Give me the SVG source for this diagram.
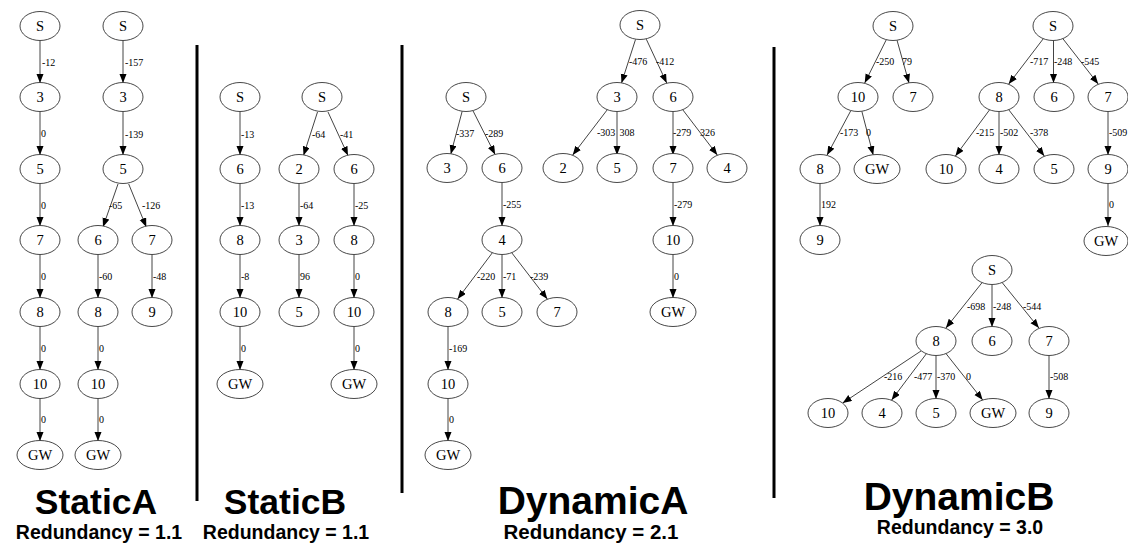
<svg xmlns="http://www.w3.org/2000/svg" width="1128" height="546" viewBox="0 0 1128 546">
<style>
.n ellipse{fill:#fff;stroke:#333;stroke-width:0.9}
.n text{font-family:"Liberation Serif",serif;font-size:14.5px;text-anchor:middle;fill:#000}
.e line{stroke:#444;stroke-width:1;marker-end:url(#ah)}
.el{font-family:"Liberation Serif",serif;font-size:10px;fill:#000}
.sep{stroke:#000;stroke-width:3}
.title{font-family:"Liberation Sans",Arial,sans-serif;font-weight:bold;font-size:35.5px;text-anchor:middle;fill:#000}
.sub{font-family:"Liberation Sans",Arial,sans-serif;font-weight:bold;font-size:19.5px;text-anchor:middle;fill:#000}
</style>
<defs>
<marker id="ah" markerUnits="userSpaceOnUse" markerWidth="10" markerHeight="8" refX="9" refY="3.5" orient="auto"><path d="M0,0 L9,3.5 L0,7 z" fill="#000"/></marker>
<ellipse id="ov" rx="20" ry="14.5" fill="#fff" stroke="#333" stroke-width="0.9"/>
</defs>
<rect width="1128" height="546" fill="#fff"/>

<g id="separators">
<line class="sep" x1="197" y1="45" x2="197" y2="501"/>
<line class="sep" x1="402" y1="45" x2="402" y2="493"/>
<line class="sep" x1="774" y1="47" x2="774" y2="498"/>
</g>

<g id="connectors" class="e">
<line x1="40" y1="40.5" x2="40" y2="83"/>
<line x1="40" y1="111.5" x2="40" y2="155"/>
<line x1="40" y1="183.5" x2="40" y2="226"/>
<line x1="40" y1="254.5" x2="40" y2="298"/>
<line x1="40" y1="326.5" x2="40" y2="370"/>
<line x1="40" y1="398.5" x2="40" y2="441"/>
<line x1="123" y1="40.5" x2="123" y2="83"/>
<line x1="123" y1="111.5" x2="123" y2="155"/>
<line x1="118" y1="184" x2="103" y2="227"/>
<line x1="128.7" y1="184" x2="146.3" y2="227"/>
<line x1="98" y1="254.5" x2="98" y2="298"/>
<line x1="152" y1="254.5" x2="152" y2="298"/>
<line x1="98" y1="326.5" x2="98" y2="370"/>
<line x1="98" y1="398.5" x2="98" y2="441"/>
<line x1="240" y1="111.5" x2="240" y2="155"/>
<line x1="240" y1="183.5" x2="240" y2="226"/>
<line x1="240" y1="254.5" x2="240" y2="298"/>
<line x1="240" y1="326.5" x2="240" y2="370"/>
<line x1="317.5" y1="112" x2="303.5" y2="155.5"/>
<line x1="328" y1="112" x2="348" y2="155.5"/>
<line x1="299" y1="183.5" x2="299" y2="226"/>
<line x1="354" y1="183.5" x2="354" y2="226"/>
<line x1="299" y1="254.5" x2="299" y2="298"/>
<line x1="354" y1="254.5" x2="354" y2="298"/>
<line x1="354" y1="326.5" x2="354" y2="370"/>
<line x1="462.2" y1="111.2" x2="450.8" y2="154"/>
<line x1="472.9" y1="110.6" x2="495.1" y2="154.5"/>
<line x1="502" y1="182.5" x2="502" y2="226"/>
<line x1="492.4" y1="252.7" x2="457.6" y2="299"/>
<line x1="502" y1="254.5" x2="502" y2="298"/>
<line x1="511.7" y1="252.7" x2="547.3" y2="299"/>
<line x1="448" y1="326.5" x2="448" y2="370"/>
<line x1="448" y1="398.5" x2="448" y2="441"/>
<line x1="635.5" y1="39.5" x2="621.5" y2="83"/>
<line x1="646.3" y1="39.2" x2="666.7" y2="83"/>
<line x1="607.3" y1="109.7" x2="572.7" y2="155"/>
<line x1="617" y1="111.5" x2="617" y2="155"/>
<line x1="673" y1="111.5" x2="673" y2="155"/>
<line x1="682.7" y1="109.7" x2="717.3" y2="155"/>
<line x1="673" y1="182.5" x2="673" y2="226"/>
<line x1="673" y1="254.5" x2="673" y2="298"/>
<line x1="886.3" y1="39.7" x2="864.7" y2="83"/>
<line x1="897" y1="40.2" x2="909" y2="83"/>
<line x1="850.9" y1="110.5" x2="827.1" y2="155"/>
<line x1="861.8" y1="111.2" x2="873.2" y2="155"/>
<line x1="820" y1="183.5" x2="820" y2="226"/>
<line x1="1043.3" y1="38.7" x2="1008.7" y2="84"/>
<line x1="1053.5" y1="40.5" x2="1053.5" y2="83"/>
<line x1="1062.8" y1="38.6" x2="1098.2" y2="84"/>
<line x1="989.6" y1="109.8" x2="955.4" y2="156"/>
<line x1="999" y1="111.5" x2="999" y2="155"/>
<line x1="1008.7" y1="109.7" x2="1044.3" y2="156"/>
<line x1="1108" y1="111.5" x2="1108" y2="155"/>
<line x1="1108" y1="183.5" x2="1108" y2="226"/>
<line x1="982.1" y1="282.6" x2="945.9" y2="328"/>
<line x1="992" y1="284.5" x2="992" y2="327"/>
<line x1="1002.1" y1="282.5" x2="1038.9" y2="328"/>
<line x1="921.3" y1="350.8" x2="842.7" y2="403"/>
<line x1="926.4" y1="353.7" x2="891.6" y2="400"/>
<line x1="936" y1="355.5" x2="936" y2="399"/>
<line x1="946" y1="353.6" x2="982.7" y2="400"/>
<line x1="1049" y1="355.5" x2="1049" y2="399"/>
</g>

<g id="edge-labels" class="el">
<text x="42" y="66">-12</text>
<text x="41" y="137">0</text>
<text x="41" y="209">0</text>
<text x="41" y="280">0</text>
<text x="41" y="352">0</text>
<text x="41" y="423">0</text>
<text x="125" y="66">-157</text>
<text x="125" y="138">-139</text>
<text x="109" y="209">-65</text>
<text x="142" y="209">-126</text>
<text x="99" y="280">-60</text>
<text x="153" y="280">-48</text>
<text x="99" y="352">0</text>
<text x="99" y="423">0</text>
<text x="241" y="138">-13</text>
<text x="241" y="209">-13</text>
<text x="241" y="280">-8</text>
<text x="241" y="352">0</text>
<text x="312" y="138">-64</text>
<text x="340" y="138">-41</text>
<text x="300" y="209">-64</text>
<text x="355" y="209">-25</text>
<text x="300" y="280">96</text>
<text x="355" y="280">0</text>
<text x="355" y="352">0</text>
<text x="456" y="137">-337</text>
<text x="485" y="137">-289</text>
<text x="503" y="208">-255</text>
<text x="477" y="280">-220</text>
<text x="503" y="280">-71</text>
<text x="530" y="280">-239</text>
<text x="449" y="352">-169</text>
<text x="449" y="423">0</text>
<text x="629" y="65">-476</text>
<text x="656" y="65">-412</text>
<text x="597" y="136">-303</text>
<text x="619.5" y="136">308</text>
<text x="673" y="136">-279</text>
<text x="700" y="136">326</text>
<text x="674" y="208">-279</text>
<text x="674" y="280">0</text>
<text x="876" y="65">-250</text>
<text x="902" y="65">79</text>
<text x="840" y="136">-173</text>
<text x="866" y="136">0</text>
<text x="821" y="208">192</text>
<text x="1030" y="65">-717</text>
<text x="1054" y="65">-248</text>
<text x="1081" y="65">-545</text>
<text x="976" y="136">-215</text>
<text x="1000" y="136">-502</text>
<text x="1030" y="136">-378</text>
<text x="1109" y="136">-509</text>
<text x="1109" y="208">0</text>
<text x="967" y="310">-698</text>
<text x="993" y="310">-248</text>
<text x="1023" y="310">-544</text>
<text x="884" y="380">-216</text>
<text x="914" y="380">-477</text>
<text x="937" y="380">-370</text>
<text x="966" y="380">0</text>
<text x="1050" y="380">-508</text>
</g>

<g id="sa1-S" class="n"><use href="#ov" x="40" y="26"/><text x="40" y="31">S</text></g>
<g id="sa1-3" class="n"><use href="#ov" x="40" y="97"/><text x="40" y="102">3</text></g>
<g id="sa1-5" class="n"><use href="#ov" x="40" y="169"/><text x="40" y="174">5</text></g>
<g id="sa1-7" class="n"><use href="#ov" x="40" y="240"/><text x="40" y="245">7</text></g>
<g id="sa1-8" class="n"><use href="#ov" x="40" y="312"/><text x="40" y="317">8</text></g>
<g id="sa1-10" class="n"><use href="#ov" x="40" y="384"/><text x="40" y="389">10</text></g>
<g id="sa1-GW" class="n"><ellipse cx="40" cy="455" rx="23" ry="14.5"/><text x="40" y="460">GW</text></g>
<g id="sa2-S" class="n"><use href="#ov" x="123" y="26"/><text x="123" y="31">S</text></g>
<g id="sa2-3" class="n"><use href="#ov" x="123" y="97"/><text x="123" y="102">3</text></g>
<g id="sa2-5" class="n"><use href="#ov" x="123" y="169"/><text x="123" y="174">5</text></g>
<g id="sa2-6" class="n"><use href="#ov" x="98" y="240"/><text x="98" y="245">6</text></g>
<g id="sa2-7" class="n"><use href="#ov" x="152" y="240"/><text x="152" y="245">7</text></g>
<g id="sa2-8" class="n"><use href="#ov" x="98" y="312"/><text x="98" y="317">8</text></g>
<g id="sa2-9" class="n"><use href="#ov" x="152" y="312"/><text x="152" y="317">9</text></g>
<g id="sa2-10" class="n"><use href="#ov" x="98" y="384"/><text x="98" y="389">10</text></g>
<g id="sa2-GW" class="n"><ellipse cx="98" cy="455" rx="23" ry="14.5"/><text x="98" y="460">GW</text></g>

<g id="sb1-S" class="n"><use href="#ov" x="240" y="97"/><text x="240" y="102">S</text></g>
<g id="sb1-6" class="n"><use href="#ov" x="240" y="169"/><text x="240" y="174">6</text></g>
<g id="sb1-8" class="n"><use href="#ov" x="240" y="240"/><text x="240" y="245">8</text></g>
<g id="sb1-10" class="n"><use href="#ov" x="240" y="312"/><text x="240" y="317">10</text></g>
<g id="sb1-GW" class="n"><ellipse cx="240" cy="384" rx="23" ry="14.5"/><text x="240" y="389">GW</text></g>
<g id="sb2-S" class="n"><use href="#ov" x="322" y="97"/><text x="322" y="102">S</text></g>
<g id="sb2-2" class="n"><use href="#ov" x="299" y="169"/><text x="299" y="174">2</text></g>
<g id="sb2-6" class="n"><use href="#ov" x="354" y="169"/><text x="354" y="174">6</text></g>
<g id="sb2-3" class="n"><use href="#ov" x="299" y="240"/><text x="299" y="245">3</text></g>
<g id="sb2-8" class="n"><use href="#ov" x="354" y="240"/><text x="354" y="245">8</text></g>
<g id="sb2-5" class="n"><use href="#ov" x="299" y="312"/><text x="299" y="317">5</text></g>
<g id="sb2-10" class="n"><use href="#ov" x="354" y="312"/><text x="354" y="317">10</text></g>
<g id="sb2-GW" class="n"><ellipse cx="354" cy="384" rx="23" ry="14.5"/><text x="354" y="389">GW</text></g>

<g id="da1-S" class="n"><use href="#ov" x="466" y="97"/><text x="466" y="102">S</text></g>
<g id="da1-3" class="n"><use href="#ov" x="447" y="168"/><text x="447" y="173">3</text></g>
<g id="da1-6" class="n"><use href="#ov" x="502" y="168"/><text x="502" y="173">6</text></g>
<g id="da1-4" class="n"><use href="#ov" x="502" y="240"/><text x="502" y="245">4</text></g>
<g id="da1-8" class="n"><use href="#ov" x="448" y="312"/><text x="448" y="317">8</text></g>
<g id="da1-5" class="n"><use href="#ov" x="502" y="312"/><text x="502" y="317">5</text></g>
<g id="da1-7" class="n"><use href="#ov" x="557" y="312"/><text x="557" y="317">7</text></g>
<g id="da1-10" class="n"><use href="#ov" x="448" y="384"/><text x="448" y="389">10</text></g>
<g id="da1-GW" class="n"><ellipse cx="448" cy="455" rx="23" ry="14.5"/><text x="448" y="460">GW</text></g>
<g id="da2-S" class="n"><use href="#ov" x="640" y="25"/><text x="640" y="30">S</text></g>
<g id="da2-3" class="n"><use href="#ov" x="617" y="97"/><text x="617" y="102">3</text></g>
<g id="da2-6" class="n"><use href="#ov" x="673" y="97"/><text x="673" y="102">6</text></g>
<g id="da2-2" class="n"><use href="#ov" x="563" y="168"/><text x="563" y="173">2</text></g>
<g id="da2-5" class="n"><use href="#ov" x="617" y="168"/><text x="617" y="173">5</text></g>
<g id="da2-7" class="n"><use href="#ov" x="673" y="168"/><text x="673" y="173">7</text></g>
<g id="da2-4" class="n"><use href="#ov" x="727" y="168"/><text x="727" y="173">4</text></g>
<g id="da2-10" class="n"><use href="#ov" x="673" y="240"/><text x="673" y="245">10</text></g>
<g id="da2-GW" class="n"><ellipse cx="673" cy="312" rx="23" ry="14.5"/><text x="673" y="317">GW</text></g>

<g id="db1-S" class="n"><use href="#ov" x="893" y="26"/><text x="893" y="31">S</text></g>
<g id="db1-10" class="n"><use href="#ov" x="858" y="97"/><text x="858" y="102">10</text></g>
<g id="db1-7" class="n"><use href="#ov" x="913" y="97"/><text x="913" y="102">7</text></g>
<g id="db1-8" class="n"><use href="#ov" x="820" y="169"/><text x="820" y="174">8</text></g>
<g id="db1-GW" class="n"><ellipse cx="877" cy="169" rx="23" ry="14.5"/><text x="877" y="174">GW</text></g>
<g id="db1-9" class="n"><use href="#ov" x="820" y="240"/><text x="820" y="245">9</text></g>
<g id="db2-S" class="n"><use href="#ov" x="1053" y="26"/><text x="1053" y="31">S</text></g>
<g id="db2-8" class="n"><use href="#ov" x="999" y="97"/><text x="999" y="102">8</text></g>
<g id="db2-6" class="n"><use href="#ov" x="1054" y="97"/><text x="1054" y="102">6</text></g>
<g id="db2-7" class="n"><use href="#ov" x="1108" y="97"/><text x="1108" y="102">7</text></g>
<g id="db2-10" class="n"><use href="#ov" x="946" y="169"/><text x="946" y="174">10</text></g>
<g id="db2-4" class="n"><use href="#ov" x="999" y="169"/><text x="999" y="174">4</text></g>
<g id="db2-5" class="n"><use href="#ov" x="1054" y="169"/><text x="1054" y="174">5</text></g>
<g id="db2-9" class="n"><use href="#ov" x="1108" y="169"/><text x="1108" y="174">9</text></g>
<g id="db2-GW" class="n"><ellipse cx="1106" cy="241" rx="22" ry="14.5"/><text x="1106" y="246">GW</text></g>
<g id="db3-S" class="n"><use href="#ov" x="992" y="270"/><text x="992" y="275">S</text></g>
<g id="db3-8" class="n"><use href="#ov" x="936" y="341"/><text x="936" y="346">8</text></g>
<g id="db3-6" class="n"><use href="#ov" x="992" y="341"/><text x="992" y="346">6</text></g>
<g id="db3-7" class="n"><use href="#ov" x="1049" y="341"/><text x="1049" y="346">7</text></g>
<g id="db3-10" class="n"><use href="#ov" x="828" y="413"/><text x="828" y="418">10</text></g>
<g id="db3-4" class="n"><use href="#ov" x="882" y="413"/><text x="882" y="418">4</text></g>
<g id="db3-5" class="n"><use href="#ov" x="936" y="413"/><text x="936" y="418">5</text></g>
<g id="db3-GW" class="n"><ellipse cx="993" cy="413" rx="23" ry="14.5"/><text x="993" y="418">GW</text></g>
<g id="db3-9" class="n"><use href="#ov" x="1049" y="413"/><text x="1049" y="418">9</text></g>

<g id="titles">
<text class="title" x="96" y="514">StaticA</text>
<text class="sub" x="99" y="539">Redundancy = 1.1</text>
<text class="title" x="285" y="514">StaticB</text>
<text class="sub" x="286" y="539">Redundancy = 1.1</text>
<text class="title" x="593" y="514" style="font-size:39px">DynamicA</text>
<text class="sub" x="591" y="539" style="font-size:20.5px">Redundancy = 2.1</text>
<text class="title" x="959" y="510" style="font-size:39px">DynamicB</text>
<text class="sub" x="960" y="534">Redundancy = 3.0</text>
</g>
</svg>
